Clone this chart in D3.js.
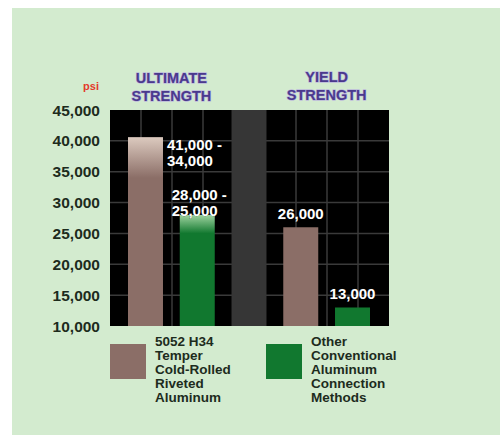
<!DOCTYPE html>
<html><head><meta charset="utf-8">
<script src="https://cdn.jsdelivr.net/npm/d3@7"></script>
<style>html,body{margin:0;padding:0;background:#fff;}svg{display:block;}</style>
</head><body>
<script>
// ---- data ----
const groups = ["ULTIMATE STRENGTH", "YIELD STRENGTH"];
const slots = ["ultA", "ultB", "gap", "yldA", "yldB"];
const barSlots = ["ultA", "ultB", "yldA", "yldB"];
const barTops = [40600, 28000, 26000, 13000];      // visible bar top
const fadeEnds = [34000, 25000, null, null];       // gradient lower bound of range
const barSeries = [0, 1, 0, 1];
const barLabels = [["41,000 -", "34,000"], ["28,000 -", "25,000"], ["26,000"], ["13,000"]];
const yTicks = [10000, 15000, 20000, 25000, 30000, 35000, 40000, 45000];
const seriesNames = [["5052 H34","Temper","Cold-Rolled","Riveted","Aluminum"],
                     ["Other","Conventional","Aluminum","Connection","Methods"]];
const seriesColors = ["#8b6e67", "#11782f"];
const seriesLight = ["#dccabf", "#9fd3a0"];

const W = 503, H = 440;
const svg = d3.select("body").append("svg").attr("width", W).attr("height", H);
const defs = svg.append("defs");

// panel
svg.append("rect").attr("x", 12).attr("y", 8).attr("width", 488).attr("height", 427)
  .attr("fill", "#d3ebcf");

const plot = {x0: 110, x1: 389, y0: 110, y1: 326};
const y = d3.scaleLinear().domain([10000, 45000]).range([plot.y1, plot.y0]);
const x = d3.scaleBand().domain(slots).range([128, 370]).paddingInner(0.324).paddingOuter(0);
const gx = d3.scaleLinear().domain([0, 9]).range([plot.x0, plot.x1]);

// black plot
svg.append("rect").attr("x", plot.x0).attr("y", plot.y0)
  .attr("width", plot.x1 - plot.x0).attr("height", plot.y1 - plot.y0).attr("fill", "#000");

// grid
const grid = svg.append("g").attr("stroke", "#3a3a3a").attr("stroke-width", 1.5);
grid.selectAll("line.v").data(d3.range(1, 9)).join("line")
  .attr("x1", d => gx(d)).attr("x2", d => gx(d)).attr("y1", plot.y0).attr("y2", plot.y1);
grid.selectAll("line.h").data(yTicks.slice(1, -1)).join("line")
  .attr("x1", plot.x0).attr("x2", plot.x1).attr("y1", d => y(d)).attr("y2", d => y(d));

// separator band
svg.append("rect").attr("x", x("gap")).attr("y", plot.y0)
  .attr("width", x.bandwidth()).attr("height", plot.y1 - plot.y0).attr("fill", "#363636");

// bars
barSlots.forEach((s, i) => {
  const c = seriesColors[barSeries[i]];
  let fill = c;
  if (fadeEnds[i] !== null) {
    const id = "g" + i;
    const g = defs.append("linearGradient").attr("id", id)
      .attr("gradientUnits", "userSpaceOnUse")
      .attr("x1", 0).attr("x2", 0).attr("y1", y(barTops[i])).attr("y2", y(fadeEnds[i]));
    g.append("stop").attr("offset", 0).attr("stop-color", seriesLight[barSeries[i]]);
    g.append("stop").attr("offset", 1).attr("stop-color", c);
    fill = `url(#${id})`;
  }
  svg.append("rect").attr("x", x(s)).attr("y", y(barTops[i]))
    .attr("width", x.bandwidth()).attr("height", y(10000) - y(barTops[i]))
    .attr("fill", fill);
});

// value labels
const font = "'Liberation Sans', Arial, sans-serif";
const lab = svg.append("g").attr("font-family", font).attr("font-weight", "bold")
  .attr("font-size", 15).attr("fill", "#fff")
  .attr("stroke", "#222").attr("stroke-width", 0.4).attr("paint-order", "stroke");
barLabels[0].forEach((t, k) => {
  lab.append("text").attr("x", x("ultA") + x.bandwidth() + 4)
    .attr("y", y(barTops[0]) + 13 + k * 16).text(t);
});
barLabels[1].forEach((t, k) => {
  lab.append("text").attr("x", x("ultB") - 8)
    .attr("y", y(barTops[1]) - 15 + k * 16).text(t);
});
[2, 3].forEach(i => {
  lab.append("text").attr("x", x(barSlots[i]) + x.bandwidth() / 2)
    .attr("y", y(barTops[i]) - 8).attr("text-anchor", "middle").text(barLabels[i][0]);
});

// y axis labels
const fmt = d3.format(",");
svg.append("g").selectAll("text").data(yTicks).join("text")
  .attr("x", 100).attr("y", d => y(d)).attr("dy", "0.36em").attr("text-anchor", "end")
  .attr("font-family", font).attr("font-weight", "bold").attr("font-size", 15.5)
  .attr("fill", "#1d2b1d").text(d => fmt(d));

svg.append("text").attr("x", 91).attr("y", 90).attr("text-anchor", "middle")
  .attr("font-family", font).attr("font-weight", "bold").attr("font-size", 11)
  .attr("fill", "#e33a2b").text("psi");

// group titles
const titleX = [(x("ultA") + x("ultB") + x.bandwidth()) / 2, (x("yldA") + x("yldB") + x.bandwidth()) / 2];
groups.forEach((gname, gi) => {
  const words = gname.split(" ");
  words.forEach((w, k) => {
    svg.append("text").attr("x", titleX[gi]).attr("y", (gi === 0 ? 83 : 82) + k * 18)
      .attr("text-anchor", "middle").attr("font-family", font).attr("font-weight", "bold")
      .attr("font-size", 14.5).attr("fill", "#4a3a8c")
      .attr("stroke", "#b3a6e0").attr("stroke-width", 1.2).attr("paint-order", "stroke")
      .text(w);
  });
});

// legend
const legX = [110, 266];
seriesNames.forEach((lines, si) => {
  svg.append("rect").attr("x", legX[si]).attr("y", 344).attr("width", 36).attr("height", 35)
    .attr("fill", seriesColors[si]);
  lines.forEach((t, k) => {
    svg.append("text").attr("x", legX[si] + 45).attr("y", 346 + k * 14)
      .attr("font-family", font).attr("font-weight", "bold").attr("font-size", 13.5)
      .attr("fill", "#1d2b1d").text(t);
  });
});
</script>
</body></html>
